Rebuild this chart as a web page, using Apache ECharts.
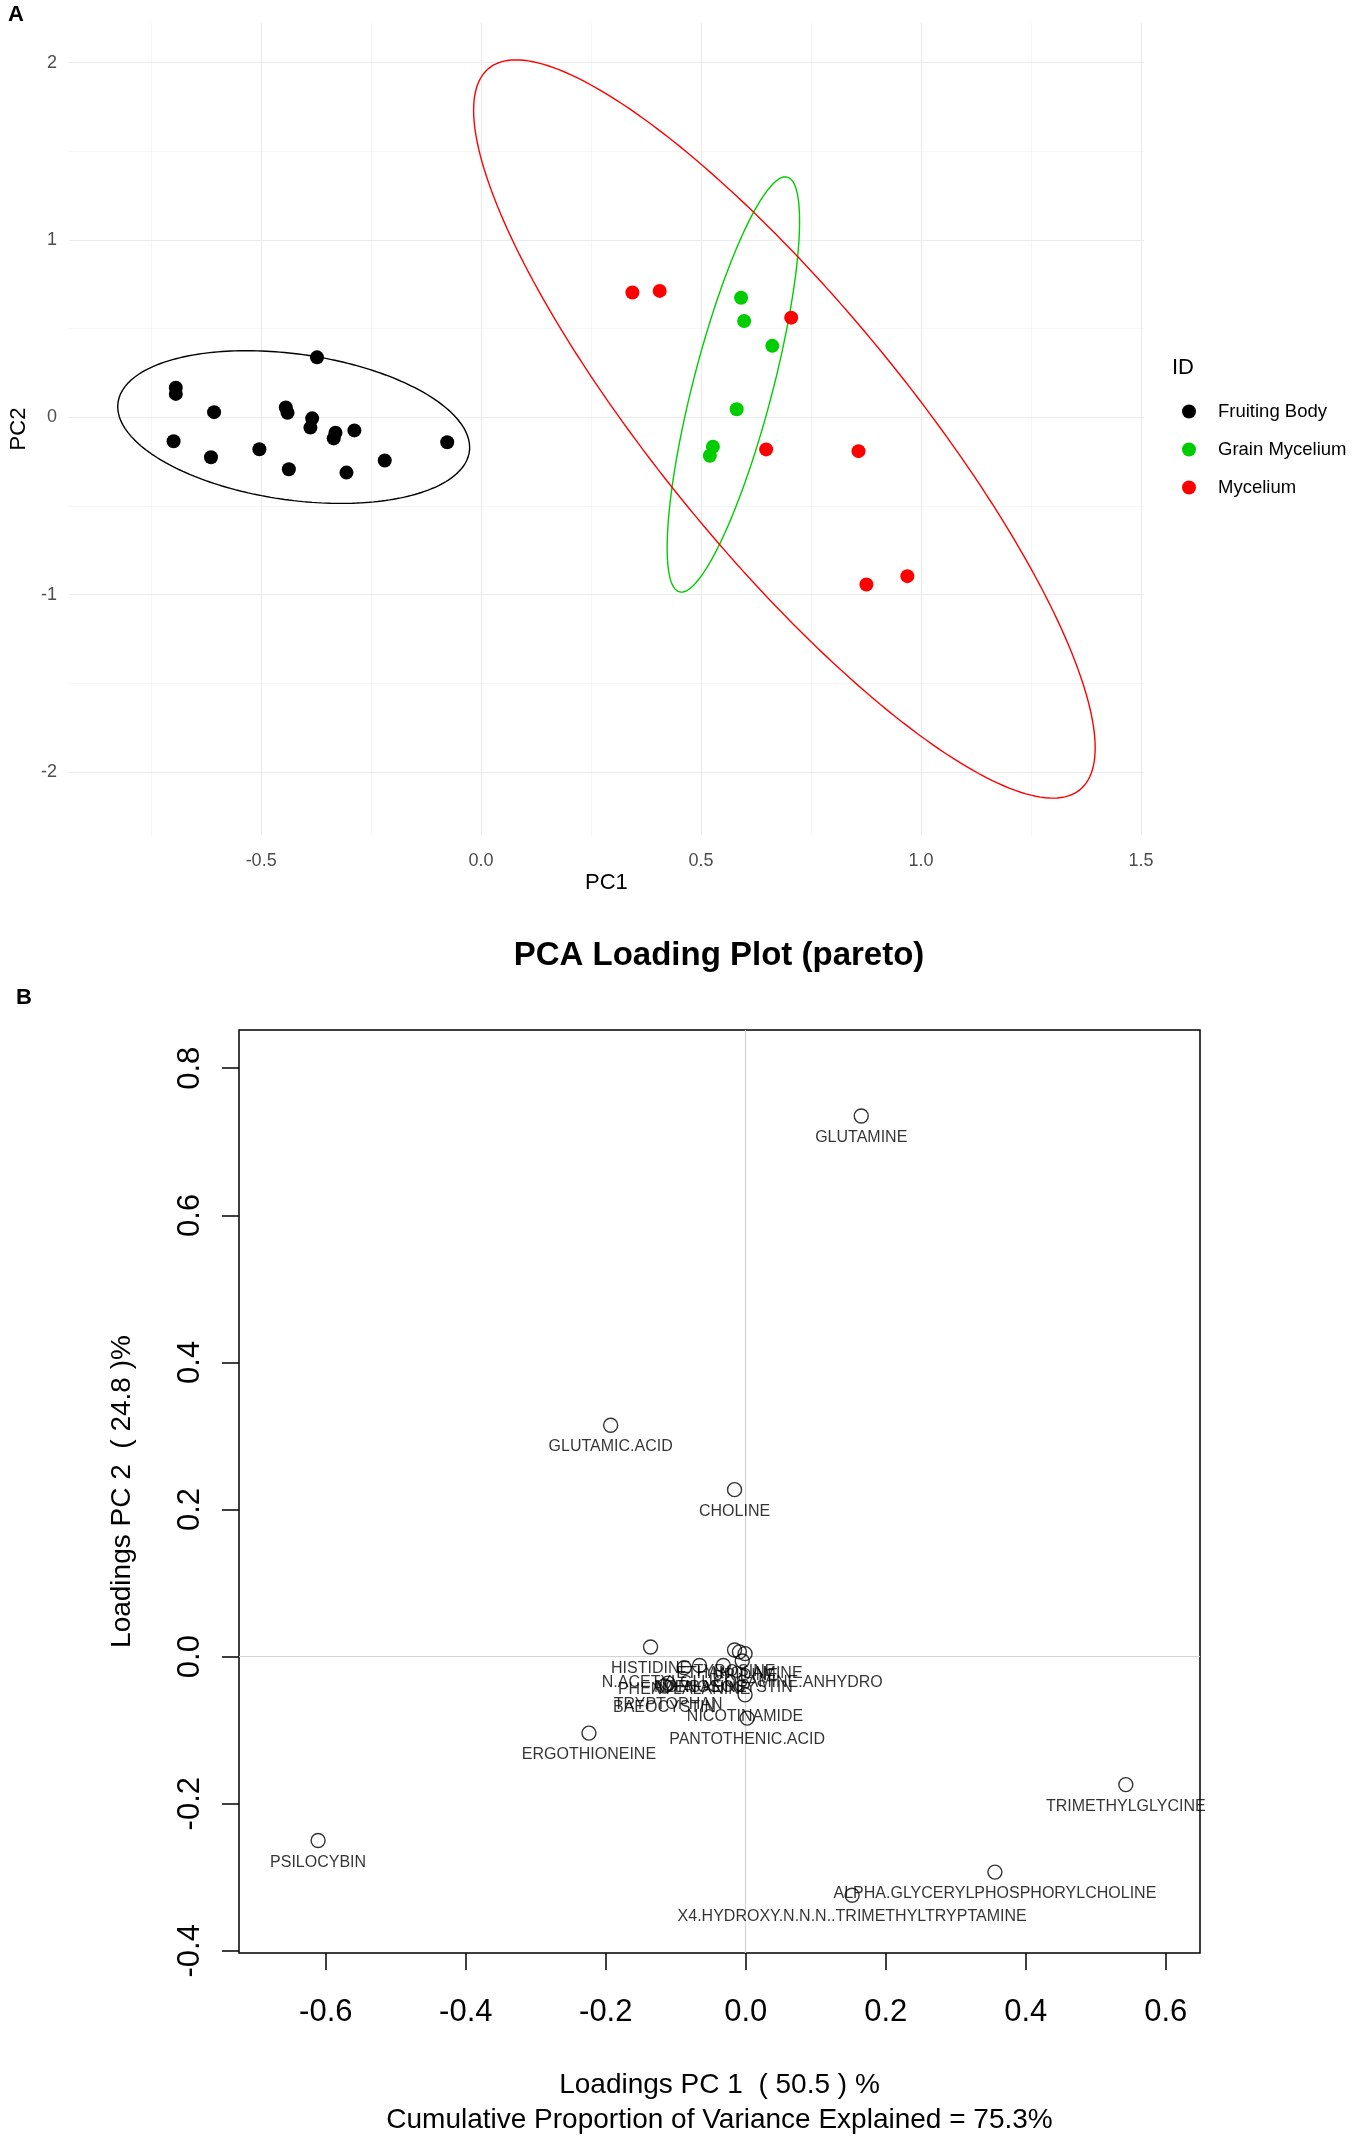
<!DOCTYPE html>
<html>
<head>
<meta charset="utf-8">
<script src="https://cdn.jsdelivr.net/npm/echarts@6/dist/echarts.min.js"></script>
<style>
  html, body { margin: 0; padding: 0; background: #fff; }
  #chart { width: 1358px; height: 2139px; }
</style>
</head>
<body>
<div id="chart"></div>
<script>
// ---- panel A : PCA scores ----
const fruitingBody = [[-0.694, 0.167], [-0.694, 0.132], [-0.607, 0.029], [-0.699, -0.135], [-0.614, -0.225],
  [-0.504, -0.180], [-0.444, 0.055], [-0.440, 0.026], [-0.373, 0.338], [-0.384, -0.006], [-0.388, -0.058],
  [-0.437, -0.293], [-0.331, -0.087], [-0.335, -0.119], [-0.288, -0.074], [-0.306, -0.312], [-0.219, -0.244],
  [-0.077, -0.141]];
const grainMycelium = [[0.591, 0.674], [0.598, 0.543], [0.662, 0.403], [0.581, 0.045], [0.527, -0.166], [0.520, -0.217]];
const mycelium = [[0.344, 0.704], [0.406, 0.713], [0.705, 0.562], [0.648, -0.181], [0.858, -0.191], [0.876, -0.943], [0.969, -0.896]];

// ellipse: centre x, centre y, half-axis a (x, y), half-axis b (x, y)
const ellipseFruiting = [-0.426, -0.055, 0.400, -0.115, 0, 0.415];
const ellipseGrain = [0.5735, 0.185, 0.1505, 0.920, 0, 0.725];
const ellipseMycelium = [0.6895, -0.066, 0.7065, -1.798, 0, 1.0497];

const groupNames = ['Fruiting Body', 'Grain Mycelium', 'Mycelium'];
const groupColors = ['#000000', '#00CD00', '#FF0000'];

const scoreXTicks = [-0.5, 0, 0.5, 1, 1.5];
const scoreXMinor = [-0.75, -0.25, 0.25, 0.75, 1.25];
const scoreYTicks = [-2, -1, 0, 1, 2];
const scoreYMinor = [-1.5, -0.5, 0.5, 1.5];

// ---- panel B : loadings ----
const loadingNames = ['GLUTAMINE', 'GLUTAMIC.ACID', 'CHOLINE', 'HISTIDINE', 'TYROSINE', 'ETHANOLAMINE', 'URIDINE',
  'N.ACETYLGLUCOSAMINE.ANHYDRO', 'PHENYLALANINE', 'ADENOSINE', 'NORBAEOCYSTIN', 'TRYPTOPHAN', 'BAEOCYSTIN',
  'NICOTINAMIDE', 'PANTOTHENIC.ACID', 'ERGOTHIONEINE', 'PSILOCYBIN', 'TRIMETHYLGLYCINE',
  'ALPHA.GLYCERYLPHOSPHORYLCHOLINE', 'X4.HYDROXY.N.N.N..TRIMETHYLTRYPTAMINE'];
const loadingPC1 = [0.165, -0.193, -0.016, -0.136, -0.016, -0.009, -0.001,
  -0.005, -0.088, -0.066, -0.032, -0.111, -0.116,
  -0.001, 0.002, -0.224, -0.611, 0.543,
  0.356, 0.152];
const loadingPC2 = [0.735, 0.3145, 0.227, 0.013, 0.009, 0.0065, 0.004,
  -0.006, -0.015, -0.012, -0.012, -0.036, -0.040,
  -0.052, -0.0836, -0.104, -0.250, -0.174,
  -0.293, -0.3245];

const loadXTicks = [-0.6, -0.4, -0.2, 0, 0.2, 0.4, 0.6];
const loadYTicks = [-0.4, -0.2, 0, 0.2, 0.4, 0.6, 0.8];

const FONT = "'Liberation Sans', Arial, Helvetica, sans-serif";

function ellipsePoints(p) {
  const pts = [];
  const n = 240;
  for (let i = 0; i <= n; i++) {
    const t = 2 * Math.PI * i / n;
    pts.push([p[0] + p[2] * Math.cos(t) + p[4] * Math.sin(t),
              p[1] + p[3] * Math.cos(t) + p[5] * Math.sin(t)]);
  }
  return pts;
}

function gridLines(axis, values, color, width) {
  return values.map(v => ({ [axis]: v, lineStyle: { color: color, width: width, type: 'solid' } }));
}

const chart = echarts.init(document.getElementById('chart'), null, { renderer: 'canvas' });

const scoreSeries = [fruitingBody, grainMycelium, mycelium].map((d, i) => ({
  name: groupNames[i],
  type: 'scatter',
  xAxisIndex: 0,
  yAxisIndex: 0,
  data: d,
  symbol: 'circle',
  symbolSize: 14,
  itemStyle: { color: groupColors[i], opacity: 1 },
  z: 3
}));

scoreSeries[0].markLine = {
  silent: true,
  symbol: 'none',
  z: 0,
  label: { show: false },
  animation: false,
  data: [].concat(
    gridLines('xAxis', scoreXMinor, '#f4f4f4', 0.8),
    gridLines('yAxis', scoreYMinor, '#f4f4f4', 0.8),
    gridLines('xAxis', scoreXTicks, '#ebebeb', 1.2),
    gridLines('yAxis', scoreYTicks, '#ebebeb', 1.2)
  )
};

const ellipseSeries = [ellipseFruiting, ellipseGrain, ellipseMycelium].map((p, i) => ({
  name: 'ellipse ' + groupNames[i],
  type: 'line',
  xAxisIndex: 0,
  yAxisIndex: 0,
  data: ellipsePoints(p),
  showSymbol: false,
  symbol: 'none',
  smooth: false,
  silent: true,
  lineStyle: { color: groupColors[i], width: 1.4 },
  z: 2
}));

const loadingData = loadingNames.map((n, i) => ({ name: n, value: [loadingPC1[i], loadingPC2[i]] }));

const option = {
  animation: false,
  backgroundColor: '#ffffff',
  textStyle: { fontFamily: FONT },
  grid: [
    { left: 63, top: 23, width: 1081, height: 812, show: false },
    { left: 239, top: 1030, width: 961, height: 923, show: true, borderColor: '#000', borderWidth: 1.5, backgroundColor: 'transparent' }
  ],
  legend: {
    data: groupNames,
    orient: 'vertical',
    left: 1177,
    top: 397,
    itemWidth: 34,
    itemHeight: 14,
    itemGap: 19,
    icon: 'circle',
    textStyle: { fontSize: 18.5, color: '#000', fontFamily: FONT, padding: [0, 0, 0, 7] },
    selectedMode: false
  },
  xAxis: [
    {
      type: 'value', gridIndex: 0, min: -0.937, max: 1.507,
      axisLine: { show: false, onZero: false }, axisTick: { show: false }, splitLine: { show: false },
      axisLabel: { customValues: scoreXTicks, formatter: v => v.toFixed(1), color: '#4d4d4d', fontSize: 18, margin: 17, fontFamily: FONT },
      name: 'PC1', nameLocation: 'middle', nameGap: 37,
      nameTextStyle: { fontSize: 22, color: '#000', fontFamily: FONT }
    },
    {
      type: 'value', gridIndex: 1, min: -0.724, max: 0.649,
      axisLine: { show: false, onZero: false },
      axisTick: { show: true, customValues: loadXTicks, length: 17, inside: false, lineStyle: { color: '#000', width: 1.5 } },
      splitLine: { show: false },
      axisLabel: { customValues: loadXTicks, formatter: v => v.toFixed(1), color: '#000', fontSize: 31, margin: 44, fontFamily: FONT },
      name: 'Loadings PC 1  ( 50.5 ) %\nCumulative Proportion of Variance Explained = 75.3%',
      nameLocation: 'middle', nameGap: 115,
      nameTextStyle: { fontSize: 28, lineHeight: 35, color: '#000', fontFamily: FONT }
    }
  ],
  yAxis: [
    {
      type: 'value', gridIndex: 0, min: -2.356, max: 2.224,
      axisLine: { show: false, onZero: false }, axisTick: { show: false }, splitLine: { show: false },
      axisLabel: { customValues: scoreYTicks, formatter: v => String(v), color: '#4d4d4d', fontSize: 18, margin: 12, fontFamily: FONT },
      name: 'PC2', nameLocation: 'middle', nameGap: 33,
      nameTextStyle: { fontSize: 22, color: '#000', fontFamily: FONT }
    },
    {
      type: 'value', gridIndex: 1, min: -0.403, max: 0.852,
      axisLine: { show: false, onZero: false },
      axisTick: { show: true, customValues: loadYTicks, length: 17, inside: false, lineStyle: { color: '#000', width: 1.5 } },
      splitLine: { show: false },
      axisLabel: { customValues: loadYTicks, formatter: v => v.toFixed(1), color: '#000', fontSize: 31, margin: 33, rotate: 90, fontFamily: FONT },
      name: 'Loadings PC 2  ( 24.8 )%', nameLocation: 'middle', nameGap: 103,
      nameTextStyle: { fontSize: 28, color: '#000', fontFamily: FONT }
    }
  ],
  graphic: [
    { type: 'text', x: 16, y: 15, style: { text: 'A', fontSize: 22, fontWeight: 'bold', fontFamily: FONT, fill: '#000', align: 'center', verticalAlign: 'middle' } },
    { type: 'text', x: 24, y: 998, style: { text: 'B', fontSize: 22, fontWeight: 'bold', fontFamily: FONT, fill: '#000', align: 'center', verticalAlign: 'middle' } },
    { type: 'text', x: 1172, y: 368, style: { text: 'ID', fontSize: 22, fontFamily: FONT, fill: '#000', align: 'left', verticalAlign: 'middle' } },
    { type: 'text', x: 719, y: 956, style: { text: 'PCA Loading Plot (pareto)', fontSize: 33, fontWeight: 'bold', fontFamily: FONT, fill: '#000', align: 'center', verticalAlign: 'middle' } }
  ],
  series: scoreSeries.concat(ellipseSeries, [{
    name: 'loadings',
    type: 'scatter',
    xAxisIndex: 1,
    yAxisIndex: 1,
    data: loadingData,
    symbol: 'circle',
    symbolSize: 14,
    itemStyle: { color: 'rgba(0,0,0,0)', borderColor: '#000', borderWidth: 1.4 },
    label: {
      show: true, position: 'bottom', distance: 6,
      formatter: p => p.name, fontSize: 16, color: '#000', fontFamily: FONT
    },
    markLine: {
      silent: true, symbol: 'none', z: 1,
      label: { show: false },
      lineStyle: { color: '#d3d3d3', width: 1.2, type: 'solid' },
      data: [{ xAxis: 0 }, { yAxis: 0 }]
    },
    z: 3
  }])
};

chart.setOption(option);
</script>
</body>
</html>
